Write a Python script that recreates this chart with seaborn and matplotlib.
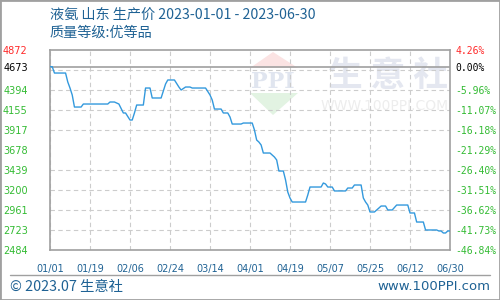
import numpy as np
import pandas as pd
import matplotlib
matplotlib.use("Agg")
import matplotlib.pyplot as plt
import seaborn as sns
from matplotlib.patches import Polygon, Rectangle
from matplotlib.lines import Line2D
from matplotlib.ticker import FixedLocator

# ---------------- data ----------------
start_date = "2023-01-01"
day_offsets = [0, 1, 2, 7, 8, 9, 10, 11, 14, 15, 26, 27, 29, 31, 33, 34, 36, 37, 38, 39,
               42, 43, 45, 46, 50, 52, 53, 56, 58, 59, 61, 63, 64, 70, 72, 73, 74, 77, 78, 80,
               81, 82, 86, 87, 91, 92, 93, 94, 95, 96, 99, 101, 102, 103, 105, 106, 107, 108, 109, 115,
               116, 117, 122, 123, 124, 125, 127, 128, 133, 134, 136, 137, 140, 141, 142, 143, 144, 146, 148, 149,
               151, 152, 154, 156, 161, 162, 164, 165, 168, 169, 174, 175, 176, 177, 178, 179, 180]
prices = [4673, 4673, 4597, 4597, 4490, 4418, 4335, 4191, 4191, 4227, 4227, 4251, 4251, 4227, 4120, 4120, 4036, 4036, 4120, 4215,
          4215, 4418, 4418, 4299, 4299, 4466, 4514, 4514, 4430, 4394, 4430, 4430, 4418, 4418, 4335, 4275, 4167, 4167, 4120, 4120,
          4072, 3988, 3988, 4000, 4000, 3917, 3797, 3773, 3738, 3642, 3642, 3594, 3559, 3427, 3427, 3320, 3176, 3105, 3057, 3057,
          3141, 3236, 3236, 3284, 3272, 3236, 3236, 3189, 3189, 3224, 3224, 3260, 3260, 3105, 3057, 3021, 2938, 2938, 2985, 3009,
          3009, 2962, 2962, 3021, 3021, 2926, 2926, 2818, 2818, 2723, 2723, 2711, 2711, 2687, 2687, 2711, 2711]

x_tick_labels = ["01/01", "01/19", "02/06", "02/24", "03/14", "04/01",
                 "04/19", "05/07", "05/25", "06/12", "06/30"]
y_min, y_max = 2484, 4872
y_left_values = [4872, 4673, 4394, 4155, 3917, 3678, 3439, 3200, 2961, 2723, 2484]
y_left_labels = ["4872", "4673", "4394", "4155", "3917", "3678", "3439", "3200", "2961", "2723", "2484"]
y_right_labels = ["4.26%", "0.00%", "-5.96%", "-11.07%", "-16.18%", "-21.29%",
                  "-26.40%", "-31.51%", "-36.62%", "-41.73%", "-46.84%"]

title_text = "液氨 山东 生产价 2023-01-01 - 2023-06-30"
subtitle_text = "质量等级:优等品"
footer_left = "© 2023.07 生意社"
footer_right = "www.100PPI.com"

# ---------------- style ----------------
sns.set_style("white")
cjk = ["Noto Sans CJK SC", "DejaVu Sans"]
plt.rcParams["font.family"] = ["DejaVu Sans"]

dark_blue = "#1f6294"
green = "#33bb33"
red = "#ff2a2a"
gray = "#a0a0a0"
grid_c = "#cccccc"

df = pd.DataFrame({
    "date": pd.Timestamp(start_date) + pd.to_timedelta(day_offsets, unit="D"),
    "price": prices,
})

fig = plt.figure(figsize=(5, 3), dpi=100)
ax = fig.add_axes([50 / 500, 50 / 300, 400 / 500, 200 / 300])
ax.set_facecolor("none")

# watermark (axes coordinates)
ax.add_patch(Polygon([(0.5, 0.91), (0.62, 0.91), (0.5575, 0.99)], closed=True,
                     transform=ax.transAxes, fc="#fbe3e3", ec="none", zorder=0.1))
ax.add_patch(Polygon([(0.5, 0.785), (0.62, 0.785), (0.5575, 0.675)], closed=True,
                     transform=ax.transAxes, fc="#e2f3e2", ec="none", zorder=0.1))
ax.text(0.5575, 0.84, "PPI", transform=ax.transAxes, ha="center", va="center",
        fontsize=16, fontweight="bold", family="DejaVu Serif", color="#e0e5ef", zorder=0.1)
ax.text(0.845, 0.875, "生 意 社", transform=ax.transAxes, ha="center", va="center",
        fontsize=25, fontweight="bold", family=cjk, color="#e4e7f0", zorder=0.1)
ax.text(0.8375, 0.72, "WWW.100PPI.COM", transform=ax.transAxes, ha="center", va="center",
        fontsize=10, family="DejaVu Sans", color="#ededed", zorder=0.1)

sns.lineplot(data=df, x="date", y="price", ax=ax, color="#3399dd", linewidth=1.0, zorder=3)

ax.set_ylim(y_min, y_max)
x_ticks = pd.date_range(start_date, periods=len(x_tick_labels), freq="18D")
ax.set_xlim(x_ticks[0], x_ticks[-1])
ax.set_xticks(x_ticks)
ax.set_xticklabels(x_tick_labels)
ax.set_xlabel("")
ax.set_ylabel("")

# grid: horizontal at equal divisions, vertical at date ticks
ax.yaxis.set_minor_locator(FixedLocator(np.linspace(y_min, y_max, 11)))
ax.set_axisbelow(True)
ax.grid(axis="y", which="minor", color=grid_c, linestyle=(0, (4, 3)), linewidth=0.8)
ax.grid(axis="x", which="major", color=grid_c, linestyle=(0, (4, 3)), linewidth=0.8)
ax.grid(axis="y", which="major", visible=False)

ax.axhline(prices[0], color=gray, linewidth=1.2, zorder=2)

ax.set_yticks(y_left_values)
ax.set_yticklabels(y_left_labels)
ax.tick_params(axis="y", which="both", length=0, pad=16, labelsize=7)
ax.tick_params(axis="x", which="both", length=0, pad=10, labelsize=7, labelcolor=dark_blue)
for i, lab in enumerate(ax.get_yticklabels()):
    lab.set_color(red if i == 0 else ("black" if i == 1 else green))

for sp in ax.spines.values():
    sp.set_visible(True)
    sp.set_color(gray)
    sp.set_linewidth(1.2)

twin = ax.twinx()
twin.set_ylim(y_min, y_max)
twin.set_yticks(y_left_values)
twin.set_yticklabels(y_right_labels, family="DejaVu Sans Mono")
twin.tick_params(axis="y", length=0, pad=4, labelsize=7)
twin.grid(False)
for sp in twin.spines.values():
    sp.set_visible(False)
for i, lab in enumerate(twin.get_yticklabels()):
    lab.set_color(red if i == 0 else ("black" if i == 1 else green))

# titles
fig.text(50 / 500, 1 - 15 / 300, title_text, family=cjk, fontsize=10.2,
         color=dark_blue, ha="left", va="center")
fig.text(50 / 500, 1 - 33 / 300, subtitle_text, family=cjk, fontsize=10.2,
         color=dark_blue, ha="left", va="center")

# footer
fig.add_artist(Line2D([10 / 500, 490 / 500], [25 / 300, 25 / 300], transform=fig.transFigure,
                      color=gray, linewidth=1))
fig.text(10 / 500, 13 / 300, footer_left, family=cjk, fontsize=10.3, color=dark_blue,
         ha="left", va="center")
fig.text(490 / 500, 13 / 300, footer_right, family="DejaVu Sans", fontsize=9.5, color=dark_blue,
         ha="right", va="center")

fig.add_artist(Rectangle((0, 0), 1, 1, transform=fig.transFigure, fill=False,
                         edgecolor=gray, linewidth=2))

fig.savefig("out.png", dpi=100)
